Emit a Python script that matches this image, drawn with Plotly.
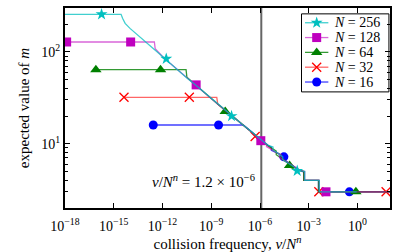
import plotly.graph_objects as go

# ---- data (nu given as log10 exponent, m = expected value) ----
exp_256 = [-18.0, -14.55, -14.45, -14.3, -14.0, -13.5, -13.0, -12.5, -12.0, -11.5, -11.0, -10.5, -10.0,
           -9.5, -9.0, -8.5, -8.0, -7.5, -7.0, -6.5, -6.0, -5.5, -5.2, -5.2, -4.9, -4.6, -4.6, -4.2, -3.9,
           -3.7, -3.25, -3.25, -2.35, -2.35, -0.05]
m_256 = [256, 256, 230, 204, 180, 152, 126, 106, 89, 74, 62, 52, 44,
         37, 31, 26, 22, 18.6, 15.8, 13.4, 11.3, 9.6, 9.2, 8.5, 7.9, 7.2, 6.7, 6.1, 5.6,
         5.1, 5.0, 4.0, 4.0, 3.0, 3.0]

exp_128 = [-18.5, -12.5, -12.45, -12.0, -11.5, -11.0, -10.5, -10.0, -9.5, -9.0, -8.5, -8.0, -7.5, -7.0,
           -6.5, -6.0, -5.6, -5.6, -5.2, -4.8, -4.8, -4.3, -3.9, -3.5, -3.25, -3.25, -2.35, -2.35, 2.0]
m_128 = [128, 128, 108, 89, 74, 62, 52, 44, 37, 31, 26, 22, 18.6, 15.8,
         13.3, 11.0, 10.0, 9.3, 8.4, 7.7, 7.1, 6.3, 5.7, 5.1, 5.0, 4.0, 4.0, 3.0, 3.0]

exp_64 = [-16.1, -10.55, -10.5, -10.0, -9.5, -9.0, -8.5, -8.0, -7.5, -7.0, -6.5, -6.0, -5.5,
          -5.0, -5.0, -4.6, -4.2, -4.2, -3.8, -3.3, -3.3, -2.4, -2.4, 2.0]
m_64 = [64, 64, 53, 44, 37, 31, 26, 22, 18.6, 15.8, 13.3, 11.2, 9.5,
        8.3, 7.6, 6.8, 6.0, 5.6, 5.2, 5.0, 4.0, 4.0, 3.0, 3.0]

exp_32 = [-14.37, -8.66, -8.6, -8.0, -7.5, -7.0, -6.5, -6.0, -5.5, -5.0, -4.7, -4.7, -4.3,
          -3.9, -3.6, -3.3, -3.3, -2.38, -2.38, 2.0]
m_32 = [32, 32, 27, 22.4, 18.8, 15.8, 13.2, 11.0, 9.4, 8.0, 7.6, 6.9, 6.2,
        5.6, 5.2, 5.0, 4.0, 4.0, 3.0, 3.0]

exp_16 = [-12.57, -7.03, -6.5, -6.0, -5.5, -5.3, -5.3, -4.9, -4.5, -4.5, -4.1, -3.7, -3.4,
          -3.3, -3.3, -2.4, -2.4, 2.0]
m_16 = [16, 16, 13.4, 11.2, 9.6, 9.2, 8.5, 7.8, 7.3, 6.7, 6.0, 5.3, 5.0,
        4.9, 4.0, 4.0, 3.0, 3.0]

# marker positions
mk_exp_256 = [-15.75, -11.77, -7.75, -3.71]
mk_m_256 = [256, 84, 20, 5.07]
mk_exp_128 = [-17.9, -13.96, -9.93, -5.95, -1.94]
mk_m_128 = [128, 128, 43.7, 10.8, 3.0]
mk_exp_64 = [-16.1, -12.12, -8.14, -4.18, -0.1]
mk_m_64 = [64, 64, 22.5, 5.8, 3.0]
mk_exp_32 = [-14.37, -10.35, -6.3, -2.38, 1.76]
mk_m_32 = [32, 32, 12.0, 3.0, 3.0]
mk_exp_16 = [-12.57, -8.55, -4.53, -0.5]
mk_m_16 = [16, 16, 7.2, 3.0]

x_tick_exps = [-18, -15, -12, -9, -6, -3, 0]
y_tick_vals = [10, 100]
y_tick_text = ["10<sup>1</sup>", "10<sup>2</sup>"]
nu_marker = 1.2e-6

series = [
    ("16", exp_16, m_16, mk_exp_16, mk_m_16, "#0000FF", "rgba(0,0,255,0.75)", "circle", 9),
    ("32", exp_32, m_32, mk_exp_32, mk_m_32, "#FF0000", "rgba(255,0,0,0.6)", "x-thin", 9),
    ("64", exp_64, m_64, mk_exp_64, mk_m_64, "#008000", "rgba(0,128,0,0.8)", "triangle-up", 10),
    ("128", exp_128, m_128, mk_exp_128, mk_m_128, "#BF00BF", "rgba(191,0,191,0.6)", "square", 9),
    ("256", exp_256, m_256, mk_exp_256, mk_m_256, "#00BFBF", "rgba(0,191,191,0.75)", "star", 9),
]

FONT = "Liberation Serif"
fig = go.Figure()

# vertical reference line
fig.add_trace(go.Scatter(x=[nu_marker, nu_marker], y=[1, 1000], mode="lines",
                         line=dict(color="#666666", width=2), showlegend=False, hoverinfo="skip"))

def mk_marker(sym, col, size):
    if sym == "x-thin":
        return dict(symbol=sym, size=size, line=dict(color=col, width=1.3), color=col)
    return dict(symbol=sym, size=size, color=col, line=dict(width=0))

for name, ex, m, mex, mm, col, lcol, sym, size in series:
    fig.add_trace(go.Scatter(x=[10 ** e for e in ex], y=m, mode="lines",
                             line=dict(color=lcol, width=1.3), showlegend=False))
    fig.add_trace(go.Scatter(x=[10 ** e for e in mex], y=mm, mode="markers",
                             marker=mk_marker(sym, col, size), showlegend=False))

# ---- hand-built legend on an overlay axis (0..1 of plot area) ----
LEG_X0, LEG_X1, LEG_Y0, LEG_Y1 = 0.7277, 0.9967, 0.5805, 0.9707
fig.add_shape(type="rect", xref="x2", yref="y2", x0=LEG_X0, x1=LEG_X1, y0=LEG_Y0, y1=LEG_Y1,
              line=dict(color="black", width=1), fillcolor="white", layer="below")
row_gap = 0.0741
for i, (name, ex, m, mex, mm, col, lcol, sym, size) in enumerate(reversed(series)):
    yy = 0.9263 - i * row_gap
    fig.add_trace(go.Scatter(x=[0.7385, 0.8103], y=[yy, yy], xaxis="x2", yaxis="y2", mode="lines",
                             line=dict(color=lcol, width=1.3), showlegend=False, hoverinfo="skip"))
    fig.add_trace(go.Scatter(x=[0.7744], y=[yy], xaxis="x2", yaxis="y2", mode="markers",
                             marker=mk_marker(sym, col, size), showlegend=False, hoverinfo="skip"))
    fig.add_annotation(x=0.8215, y=yy, xref="x2", yref="y2", text=f"<i>N</i> = {name}",
                       showarrow=False, xanchor="left", yanchor="middle",
                       font=dict(family=FONT, size=14, color="black"))

fig.add_annotation(x=-6.0, y=0.6, xref="x", yref="y", text="<i>ν</i>/<i>N<sup>n</sup></i> = 1.2 × 10<sup>−6</sup>",
                   showarrow=False, xanchor="right", yanchor="middle", xshift=-3,
                   font=dict(family=FONT, size=15, color="black"))

fig.update_xaxes(type="log", range=[-18, 2],
                 tickvals=[10 ** e for e in x_tick_exps],
                 ticktext=[f"10<sup>{'−' if e < 0 else ''}{abs(e)}</sup>" for e in x_tick_exps],
                 ticks="inside", ticklen=5, tickwidth=1, tickcolor="black",
                 ticklabelstandoff=4,
                 showline=True, linecolor="black", linewidth=2, mirror="allticks",
                 showgrid=False, zeroline=False,
                 title=dict(text="collision frequency, <i>ν</i>/<i>N<sup>n</sup></i>", standoff=2,
                            font=dict(family=FONT, size=15, color="black")),
                 tickfont=dict(family=FONT, size=14, color="black"))
fig.update_yaxes(type="log", range=[0.301, 2.477],
                 tickvals=y_tick_vals, ticktext=y_tick_text,
                 ticks="inside", ticklen=5, tickwidth=1, tickcolor="black",
                 minor=dict(ticks="inside", ticklen=3, tickcolor="black",
                            tickvals=[3, 4, 5, 6, 7, 8, 9, 20, 30, 40, 50, 60, 70, 80, 90, 200, 300]),
                 showline=True, linecolor="black", linewidth=2, mirror="allticks",
                 showgrid=False, zeroline=False,
                 title=dict(text="expected value of <i>m</i>", standoff=8,
                            font=dict(family=FONT, size=15, color="black")),
                 tickfont=dict(family=FONT, size=14, color="black"))

fig.update_layout(
    width=407, height=252,
    margin=dict(l=65, r=17, t=6, b=41),
    paper_bgcolor="white", plot_bgcolor="white",
    font=dict(family=FONT, size=13, color="black"),
    showlegend=False,
    xaxis2=dict(overlaying="x", range=[0, 1], visible=False, fixedrange=True),
    yaxis2=dict(overlaying="y", range=[0, 1], visible=False, fixedrange=True),
)

fig.write_html("out.html", config={"displayModeBar": False},
               post_script="document.body.style.margin='0';document.body.style.padding='0';")
